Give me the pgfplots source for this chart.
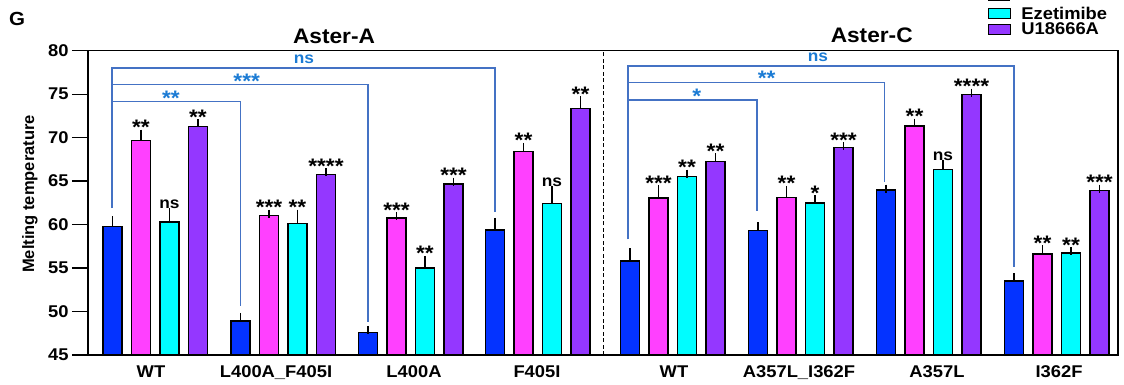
\documentclass[border=0pt]{standalone}
\usepackage{pgfplots}
\pgfplotsset{compat=1.18}
\usepackage{fontspec}
\setmainfont{Liberation Sans}[FakeStretch=1.08]
\newfontfamily\plainfont{Liberation Sans}
\newcommand\ticksize{\fontsize{17}{20}\selectfont}
\definecolor{cBlue}{HTML}{0433FF}
\definecolor{cMag}{HTML}{FF40FF}
\definecolor{cCyan}{HTML}{00FDFF}
\definecolor{cPur}{HTML}{9437FF}
\definecolor{bLine}{HTML}{4472C4}
\definecolor{bText}{HTML}{1B7BD4}
\pgfplotsset{
  boxlegend/.style={legend image code/.code={\draw[##1,draw=black,line width=1.2pt] (0pt,-5pt) rectangle (22pt,5pt);}},
  mybar/.style={ybar, bar width=19, bar shift=0pt, draw=black, line width=1.4pt, boxlegend,
    error bars/y dir=plus, error bars/y explicit,
    error bars/error bar style={line width=1.4pt, black},
    error bars/error mark options={black, line width=1.4pt, mark size=4pt}},
}
\pgfplotstableread{
x y e
112.5 59.8 0.7
240.5 48.9 0.5
368 47.6 0.3
495 59.4 0.9
630 55.8 1.0
758 59.3 0.5
886 64.0 0.15
1014 53.5 0.45
}\tblBlue
\pgfplotstableread{
x y e
141 69.7 0.75
269 61.05 0.2
396.5 60.75 0.2
523.5 68.4 0.55
658.5 63.05 1.0
786.5 63.15 0.85
914.5 71.35 0.38
1042.5 56.6 0.55
}\tblMag
\pgfplotstableread{
x y e
169.5 60.3 1.1
297.5 60.1 1.15
425 55.0 0.95
552 62.4 1.55
687 65.5 0.35
815 62.5 0.4
943 66.35 0.6
1071 56.75 0.2
}\tblCyan
\pgfplotstableread{
x y e
198 71.3 0.35
326 65.75 0.25
453.5 64.65 0.3
580.5 73.35 0.95
715.5 67.25 0.5
843.5 68.85 0.15
971.5 74.95 0.22
1099.5 63.95 0.2
}\tblPur
\begin{document}
\begin{tikzpicture}
\path[use as bounding box, clip] (-88pt,-29pt) rectangle (1036pt,355pt);
\begin{axis}[
  at={(0pt,0pt)}, anchor=south west,
  scale only axis, width=1030pt, height=304.3pt,
  xmin=88, xmax=1118, ymin=45, ymax=80,
  axis line style={line width=1.3pt},
  ytick={45,50,...,80}, ytick pos=left,
  xtick={151,276,414,537,674,799,937,1059},
  xticklabels={WT,L400A\_F405I,L400A,F405I,WT,A357L\_I362F,A357L,I362F},
  x tick style={draw=none},
  y tick style={line width=1.3pt, black},
  tick align=outside, major tick length=16pt,
  tick label style={font=\ticksize\bfseries},
  xticklabel style={yshift=9pt},
  /pgf/number format/assume math mode=true,
  clip mode=individual,
  legend style={at={(axis cs:988,85.2)}, anchor=north west, draw=none, fill=none,
    inner sep=0pt, row sep=0pt, font=\ticksize\bfseries,
    nodes={inner sep=1pt, anchor=west},
    /tikz/every odd column/.append style={column sep=9pt}},
]
\addplot[mybar, fill=cBlue, forget plot] table[x=x,y=y,y error=e] {\tblBlue};
\addplot[mybar, fill=cMag, forget plot] table[x=x,y=y,y error=e] {\tblMag};
\addplot[mybar, fill=cCyan] table[x=x,y=y,y error=e] {\tblCyan};
\addlegendentry{Ezetimibe}
\addplot[mybar, fill=cPur] table[x=x,y=y,y error=e] {\tblPur};
\addlegendentry{U18666A}

% asterisk labels
\addplot[only marks, mark=none, forget plot, nodes near coords, point meta=explicit symbolic,
  every node near coord/.append style={anchor=base, inner sep=0pt, font=\fontsize{21}{22}\selectfont\bfseries}]
  table[x=x,y=y,meta=t] {
x y t
141 70.32 **
269 61.12 ***
396.5 60.82 ***
523.5 68.82 **
658.5 63.92 ***
786.5 63.87 **
914.5 71.6 **
1042.5 57.02 **
297.5 61.12 **
425 55.82 **
687 65.72 **
815 62.77 *
1071 56.82 **
198 71.52 **
326 65.87 ****
453.5 64.82 ***
580.5 74.17 **
715.5 67.62 **
843.5 68.87 ***
971.5 75.04 ****
1099.5 64.02 ***
};
% ns labels
\addplot[only marks, mark=none, forget plot, nodes near coords, point meta=explicit symbolic,
  every node near coord/.append style={anchor=base, inner sep=0pt, font=\fontsize{16}{18}\selectfont\bfseries}]
  table[x=x,y=y,meta=t] {
x y t
169.5 61.85 ns
552 64.4 ns
943 67.4 ns
};

% divider
\draw[line width=1.3pt, dash pattern=on 4pt off 2.5pt] (axis cs:603.5,45) -- (axis cs:603.5,80);

% brackets
\begin{scope}[bLine, line width=1.2pt]
\draw (axis cs:112,61.9) -- (axis cs:112,78.0) -- (axis cs:495,78.0) -- (axis cs:495,61.4);
\draw (axis cs:112,76.14) -- (axis cs:368,76.14) -- (axis cs:368,48.8);
\draw (axis cs:112,74.2) -- (axis cs:240.5,74.2) -- (axis cs:240.5,50.6);
\draw (axis cs:628,58.3) -- (axis cs:628,78.24) -- (axis cs:1014,78.24) -- (axis cs:1014,55.1);
\draw (axis cs:628,76.3) -- (axis cs:884.5,76.3) -- (axis cs:884.5,64.9);
\draw (axis cs:628,74.33) -- (axis cs:757,74.33) -- (axis cs:757,61.6);
\end{scope}
\begin{scope}[bText, font=\bfseries]
\node[anchor=base, font=\fontsize{16}{18}\selectfont\bfseries] at (axis cs:304,78.55) {ns};
\node[anchor=base, font=\fontsize{21}{22}\selectfont\bfseries] at (axis cs:246.7,75.63) {***};
\node[anchor=base, font=\fontsize{21}{22}\selectfont\bfseries] at (axis cs:171,73.7) {**};
\node[anchor=base, font=\fontsize{16}{18}\selectfont\bfseries] at (axis cs:818,78.74) {ns};
\node[anchor=base, font=\fontsize{21}{22}\selectfont\bfseries] at (axis cs:766.7,76.0) {**};
\node[anchor=base, font=\fontsize{21}{22}\selectfont\bfseries] at (axis cs:696.7,73.9) {*};
\end{scope}

% titles
\node[anchor=base, font=\fontsize{21}{24}\selectfont\bfseries] at (axis cs:334,80.85) {Aster-A};
\node[anchor=base, font=\fontsize{21}{24}\selectfont\bfseries] at (axis cs:871.7,80.9) {Aster-C};
\end{axis}
\node[anchor=base, font=\fontsize{19}{22}\selectfont\bfseries] at (-71pt,330pt) {G};
\node[rotate=90, font=\plainfont\fontsize{16.5}{18}\selectfont\bfseries] at (-58pt,161pt) {Melting temperature};
\draw[line width=1.2pt] (900pt,354.3pt) -- (922pt,354.3pt);
\end{tikzpicture}
\end{document}
